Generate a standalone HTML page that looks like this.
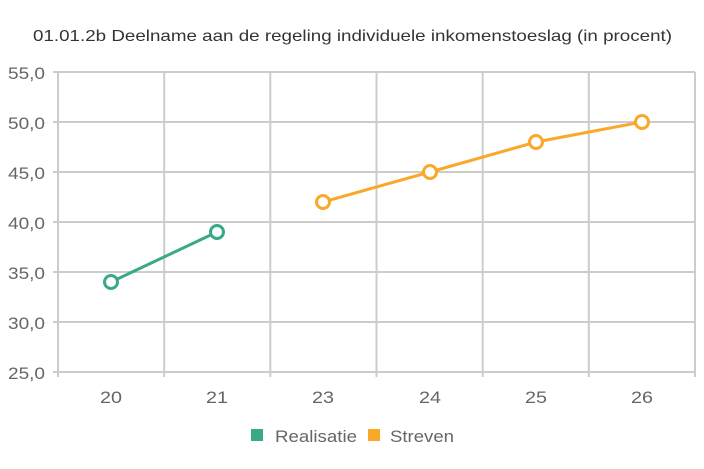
<!DOCTYPE html>
<html><head><meta charset="utf-8"><style>
html,body{margin:0;padding:0;background:#fff;}
svg{display:block;font-family:"Liberation Sans",Arial,sans-serif;}
</style></head><body>
<svg width="704" height="469" viewBox="0 0 704 469">
<text x="33" y="41" font-size="16" fill="#333" textLength="639" lengthAdjust="spacingAndGlyphs">01.01.2b Deelname aan de regeling individuele inkomenstoeslag (in procent)</text>
<g stroke="#ccc" stroke-width="2" fill="none">
<line x1="53" y1="72" x2="695" y2="72"/>
<line x1="53" y1="122" x2="695" y2="122"/>
<line x1="53" y1="172" x2="695" y2="172"/>
<line x1="53" y1="222" x2="695" y2="222"/>
<line x1="53" y1="272" x2="695" y2="272"/>
<line x1="53" y1="322" x2="695" y2="322"/>
<line x1="53" y1="372" x2="695" y2="372"/>
<line x1="58" y1="72" x2="58" y2="377"/>
<line x1="164.2" y1="72" x2="164.2" y2="377"/>
<line x1="270.3" y1="72" x2="270.3" y2="377"/>
<line x1="376.5" y1="72" x2="376.5" y2="377"/>
<line x1="482.7" y1="72" x2="482.7" y2="377"/>
<line x1="588.8" y1="72" x2="588.8" y2="377"/>
<line x1="695" y1="72" x2="695" y2="377"/>
</g>
<g font-size="17" fill="#666">
<text x="8" y="79" textLength="37" lengthAdjust="spacingAndGlyphs">55,0</text>
<text x="8" y="129" textLength="37" lengthAdjust="spacingAndGlyphs">50,0</text>
<text x="8" y="179" textLength="37" lengthAdjust="spacingAndGlyphs">45,0</text>
<text x="8" y="229" textLength="37" lengthAdjust="spacingAndGlyphs">40,0</text>
<text x="8" y="279" textLength="37" lengthAdjust="spacingAndGlyphs">35,0</text>
<text x="8" y="329" textLength="37" lengthAdjust="spacingAndGlyphs">30,0</text>
<text x="8" y="379" textLength="37" lengthAdjust="spacingAndGlyphs">25,0</text>
</g>
<g font-size="17" fill="#666">
<text x="100" y="403" textLength="22" lengthAdjust="spacingAndGlyphs">20</text>
<text x="206" y="403" textLength="22" lengthAdjust="spacingAndGlyphs">21</text>
<text x="312" y="403" textLength="22" lengthAdjust="spacingAndGlyphs">23</text>
<text x="419" y="403" textLength="22" lengthAdjust="spacingAndGlyphs">24</text>
<text x="525" y="403" textLength="22" lengthAdjust="spacingAndGlyphs">25</text>
<text x="631" y="403" textLength="22" lengthAdjust="spacingAndGlyphs">26</text>
</g>
<polyline points="111,282 217,232" stroke="#3aa98a" stroke-width="3" fill="none"/>
<g stroke="#3aa98a" stroke-width="3" fill="#fff">
<circle cx="111" cy="282" r="6.5"/><circle cx="217" cy="232" r="6.5"/>
</g>
<polyline points="323,202 430,172 536,142 642,122" stroke="#f9a82a" stroke-width="3" fill="none"/>
<g stroke="#f9a82a" stroke-width="3" fill="#fff">
<circle cx="323" cy="202" r="6.5"/><circle cx="430" cy="172" r="6.5"/><circle cx="536" cy="142" r="6.5"/><circle cx="642" cy="122" r="6.5"/>
</g>
<rect x="251" y="429" width="12" height="12" fill="#3aa98a"/>
<text x="275" y="442" font-size="17" fill="#666" textLength="82" lengthAdjust="spacingAndGlyphs">Realisatie</text>
<rect x="368" y="429" width="12" height="12" fill="#f9a82a"/>
<text x="390" y="442" font-size="17" fill="#666" textLength="64" lengthAdjust="spacingAndGlyphs">Streven</text>
</svg>
</body></html>
